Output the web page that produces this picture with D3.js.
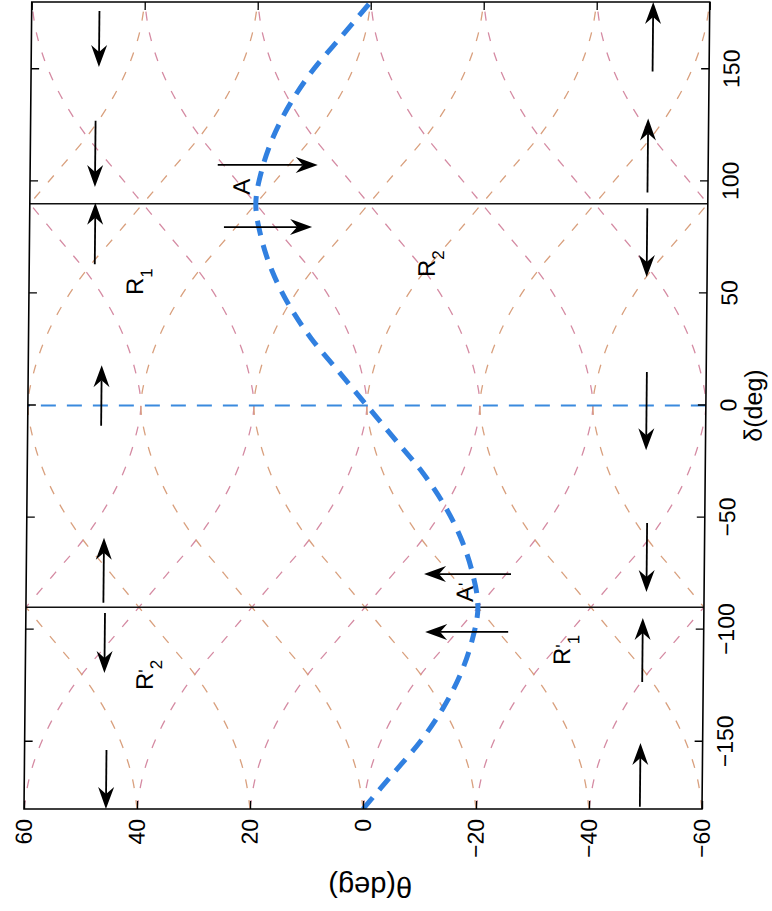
<!DOCTYPE html>
<html>
<head>
<meta charset="utf-8">
<script src="https://cdn.jsdelivr.net/npm/d3@7"></script>
<style>
  body { margin: 0; background: #fff; }
  svg { display: block; font-family: "Liberation Sans", Arial, Helvetica, sans-serif; }
</style>
</head>
<body>
<svg id="chart" width="772" height="911"></svg>
<script>
// graduations des axes
const deltaTicks = [-150, -100, -50, 0, 50, 100, 150];
const thetaTicks = [-60, -40, -20, 0, 20, 40, 60];

// forme des courbes rouges en pointillé, décalée ensuite
const profileDelta = [-180, -165, -150, -135, -120, -105, -90, -75, -60, -45, -30, -15, 0,
                      15, 30, 45, 60, 75, 90, 105, 120, 135, 150, 165, 180];
const profileTheta = [-20, -19, -17, -14, -10, -5, 0, 5, 10, 14, 17, 19, 20,
                      19, 17, 14, 10, 5, 0, -5, -10, -14, -17, -19, -20];
const curveOffsets = [-80, -60, -40, -20, 0, 20, 40, 60, 80];

// courbe bleue épaisse
const blueDelta = [-180, -165, -150, -135, -120, -105, -90, -75, -60, -45, -30, -15, 0,
                   15, 30, 45, 60, 75, 90, 105, 120, 135, 150, 165, 180];
const blueTheta = [0, -5, -10, -14, -17, -19, -20, -19, -17, -14, -10, -5, 0,
                   5, 10, 14, 17, 19, 20, 19, 17, 14, 10, 5, 0];

// droites verticales (dans le repère d'origine)
const solidDeltas = [-90, 90];
const dashedDeltas = [0];

// flèches : [delta départ, theta départ, delta pointe, theta pointe]
const arrows = [
    [176, 48, 151, 48],
    [127, 48.5, 97.5, 48.5],
    [63, 48.4, 90.5, 48.4],
    [-9, 47, 18, 47],
    [-88, 46.3, -59, 46.3],
    [-92.6, 46, -119.3, 46],
    [-153.7, 45.5, -180, 45.5],
    [149, -50, 180, -50],
    [95, -49.3, 128, -49.3],
    [88, -49.3, 57.3, -49.3],
    [15, -49.5, -20, -49.5],
    [-52.4, -49.8, -83.2, -49.8],
    [-123.3, -49.2, -94.8, -49.2],
    [-179, -49, -150.6, -49],
    [107.3, 26.8, 107.3, 9.1],
    [79.6, 25.6, 79.6, 10],
    [-75.2, -25.8, -75.2, -10.4],
    [-101, -25.4, -101, -10.7]
];

// étiquettes dans le graphique
const labelNames = ["A", "A", "R", "R", "R", "R"];
const labelPrimes = ["", "'", "", "", "'", "'"];
const labelSubs = ["", "", "1", "2", "2", "1"];
const labelDelta = [94, -87.7, 49.3, 57.3, -126.9, -115.8];
const labelTheta = [21.1, -19.1, 39.8, -11.8, 37.4, -36.4];

// dimensions du repère d'origine (avant rotation)
const plotW = 807;   // axe delta
const plotH = 678;   // axe theta
const tick = 8;

const svg = d3.select("#chart");

// la figure est tournée de 90° (et légèrement cisaillée comme le scan)
const plot = svg.append("g")
    .attr("transform", "translate(24,809) skewX(-0.55) rotate(-90)");

const x = d3.scaleLinear().domain([-180, 180]).range([0, plotW]);
const y = d3.scaleLinear().domain([-60, 60]).range([plotH, 0]);

plot.append("clipPath")
    .attr("id", "clip")
    .append("rect")
    .attr("width", plotW)
    .attr("height", plotH);

const inner = plot.append("g").attr("clip-path", "url(#clip)");

const line = d3.line()
    .x(d => x(d[0]))
    .y(d => y(d[1]))
    .curve(d3.curveMonotoneX);

// courbes rouges : deux familles
const families = [
    { sign: -1, color: "#d58ba3" },
    { sign: 1, color: "#d9a07e" }
];

families.forEach(f => {
    curveOffsets.forEach(off => {
        const pts = profileDelta.map((d, i) => [d, off + f.sign * profileTheta[i]]);
        inner.append("path")
            .attr("d", line(pts))
            .attr("fill", "none")
            .attr("stroke", f.color)
            .attr("stroke-width", 1.3)
            .attr("stroke-dasharray", "9,12");
    });
});

// droite bleue en tirets
inner.selectAll(".vdash")
    .data(dashedDeltas)
    .join("line")
    .attr("x1", d => x(d))
    .attr("x2", d => x(d))
    .attr("y1", y(-60))
    .attr("y2", y(60))
    .attr("stroke", "#3a8ade")
    .attr("stroke-width", 2)
    .attr("stroke-dasharray", "15,11");

// droites noires
inner.selectAll(".vsolid")
    .data(solidDeltas)
    .join("line")
    .attr("x1", d => x(d))
    .attr("x2", d => x(d))
    .attr("y1", y(-60))
    .attr("y2", y(60))
    .attr("stroke", "#111")
    .attr("stroke-width", 1.7);

// courbe bleue épaisse
inner.append("path")
    .attr("d", line(blueDelta.map((d, i) => [d, blueTheta[i]])))
    .attr("fill", "none")
    .attr("stroke", "#3180e0")
    .attr("stroke-width", 5)
    .attr("stroke-dasharray", "15,10");

// flèches
const L = 22, HW = 8, N = 15;
const arrowG = plot.append("g");
arrows.forEach(a => {
    const x1 = x(a[0]), y1 = y(a[1]), x2 = x(a[2]), y2 = y(a[3]);
    const len = Math.hypot(x2 - x1, y2 - y1);
    const ux = (x2 - x1) / len, uy = (y2 - y1) / len;
    const px = -uy, py = ux;

    arrowG.append("line")
        .attr("x1", x1).attr("y1", y1)
        .attr("x2", x2 - ux * N).attr("y2", y2 - uy * N)
        .attr("stroke", "#000")
        .attr("stroke-width", 1.8);

    const p = d3.path();
    p.moveTo(x2, y2);
    p.lineTo(x2 - ux * L + px * HW, y2 - uy * L + py * HW);
    p.lineTo(x2 - ux * N, y2 - uy * N);
    p.lineTo(x2 - ux * L - px * HW, y2 - uy * L - py * HW);
    p.closePath();
    arrowG.append("path").attr("d", p.toString()).attr("fill", "#000");
});

// étiquettes A, A', R1, R2, R'2, R'1
labelNames.forEach((name, i) => {
    const t = plot.append("text")
        .attr("x", x(labelDelta[i]))
        .attr("y", y(labelTheta[i]))
        .attr("font-size", 24)
        .attr("fill", "#000");
    t.append("tspan").text(name);
    if (labelPrimes[i]) {
        t.append("tspan").attr("dy", -2).attr("font-size", 18).text(labelPrimes[i]);
    }
    if (labelSubs[i]) {
        t.append("tspan").attr("dy", labelPrimes[i] ? 11 : 9).attr("font-size", 17).text(labelSubs[i]);
    }
});

// axes
const styleAxis = g => {
    g.attr("font-size", null).attr("font-family", null);
    g.select(".domain").remove();
    g.selectAll(".tick line").attr("stroke", "#000").attr("stroke-width", 1.3);
    g.selectAll(".tick text").attr("font-size", 23).attr("fill", "#000");
};

plot.append("g")
    .attr("transform", `translate(0,${plotH})`)
    .call(d3.axisBottom(x).tickValues(deltaTicks).tickSize(-tick).tickSizeOuter(0).tickPadding(14))
    .call(styleAxis);

plot.append("g")
    .call(d3.axisTop(x).tickValues(deltaTicks).tickSize(-tick).tickSizeOuter(0).tickFormat(""))
    .call(styleAxis);

plot.append("g")
    .call(d3.axisLeft(y).tickValues(thetaTicks).tickSize(-tick).tickSizeOuter(0).tickPadding(10))
    .call(styleAxis);

plot.append("g")
    .attr("transform", `translate(${plotW},0)`)
    .call(d3.axisRight(y).tickValues(thetaTicks).tickSize(-tick).tickSizeOuter(0).tickFormat(""))
    .call(styleAxis);

// cadre
plot.append("rect")
    .attr("width", plotW)
    .attr("height", plotH)
    .attr("fill", "none")
    .attr("stroke", "#000")
    .attr("stroke-width", 1.6);

// titres des axes
plot.append("text")
    .attr("x", x(0))
    .attr("y", plotH + 56)
    .attr("text-anchor", "middle")
    .attr("font-size", 25)
    .text("δ(deg)");

plot.append("text")
    .attr("transform", `translate(-68,${y(0) + 8}) rotate(-90)`)
    .attr("text-anchor", "middle")
    .attr("font-size", 29)
    .text("θ(deg)");
</script>
</body>
</html>
